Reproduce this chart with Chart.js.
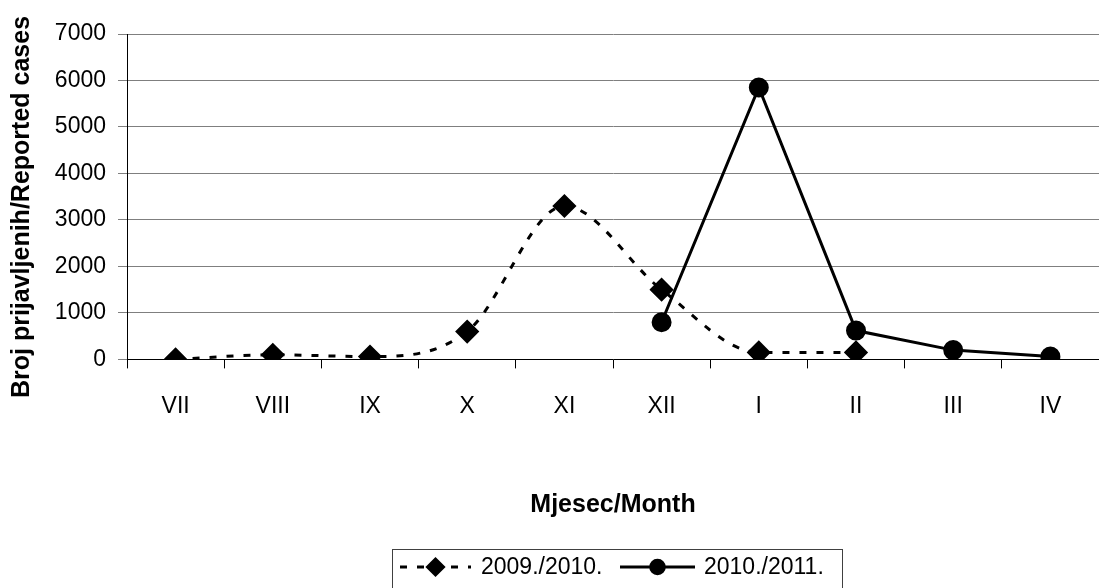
<!DOCTYPE html>
<html>
<head>
<meta charset="utf-8">
<script src="https://cdn.jsdelivr.net/npm/chart.js@4"></script>
<style>
  html, body { margin: 0; padding: 0; background: #fff; overflow: hidden; }
  canvas { display: block; }
</style>
</head>
<body>
<canvas id="casesChart" width="1112" height="588"></canvas>
<script>
// months, July to April
const months = ['VII', 'VIII', 'IX', 'X', 'XI', 'XII', 'I', 'II', 'III', 'IV'];
const season1Name = '2009./2010.';
const season2Name = '2010./2011.';
const season1 = [0, 100, 60, 600, 3300, 1500, 150, 150, null, null];
const season2 = [null, null, null, null, null, 800, 5850, 620, 200, 60];
const yTicks = [0, 1000, 2000, 3000, 4000, 5000, 6000, 7000];
const yTitle = 'Broj prijavljenih/Reported cases';

const FONT = 'Liberation Sans, Arial, sans-serif';

// y title drawn by hand so it sits where Excel put it
const sideTitle = {
  id: 'sideTitle',
  afterDraw(chart) {
    const ctx = chart.ctx;
    ctx.save();
    ctx.translate(22, 207);
    ctx.rotate(-Math.PI / 2);
    ctx.font = 'bold 25px ' + FONT;
    ctx.fillStyle = '#000';
    ctx.textAlign = 'center';
    ctx.textBaseline = 'middle';
    ctx.fillText(yTitle, 0, 0);
    ctx.restore();
  }
};

// Excel style legend: line sample with marker, inside a box
const boxLegend = {
  id: 'boxLegend',
  afterDraw(chart) {
    const ctx = chart.ctx;
    const ds = chart.data.datasets;
    ctx.save();
    ctx.strokeStyle = '#404040';
    ctx.lineWidth = 1;
    ctx.strokeRect(392.5, 549.5, 450, 44);

    const cy = 567;
    const items = [
      { d: ds[0], x0: 400, x1: 471, tx: 481 },
      { d: ds[1], x0: 620, x1: 695, tx: 704 }
    ];
    items.forEach(function (it) {
      ctx.strokeStyle = '#000';
      ctx.lineWidth = 3;
      ctx.setLineDash(it.d.borderDash || []);
      ctx.beginPath();
      ctx.moveTo(it.x0, cy);
      ctx.lineTo(it.x1, cy);
      ctx.stroke();
      ctx.setLineDash([]);
      ctx.fillStyle = '#000';
      Chart.helpers.drawPoint(ctx, {
        pointStyle: it.d.pointStyle,
        radius: it.d.pointRadius * 0.8,
        borderWidth: 1
      }, (it.x0 + it.x1) / 2, cy);
      ctx.fill();
      ctx.font = '23px ' + FONT;
      ctx.textBaseline = 'middle';
      ctx.textAlign = 'left';
      ctx.fillText(it.d.label, it.tx, cy + 1);
    });
    ctx.restore();
  }
};

const ctx = document.getElementById('casesChart').getContext('2d');
const casesChart = new Chart(ctx, {
  type: 'line',
  data: {
    labels: months,
    datasets: [{
      label: season1Name,
      data: season1,
      borderColor: '#000',
      backgroundColor: '#000',
      borderWidth: 3,
      borderDash: [7, 10],
      cubicInterpolationMode: 'monotone',
      pointStyle: 'rectRot',
      pointRadius: 10,
      pointBackgroundColor: '#000',
      pointBorderColor: '#000',
      spanGaps: false
    }, {
      label: season2Name,
      data: season2,
      borderColor: '#000',
      backgroundColor: '#000',
      borderWidth: 3,
      tension: 0,
      pointStyle: 'circle',
      pointRadius: 8.5,
      pointBackgroundColor: '#000',
      pointBorderColor: '#000'
    }]
  },
  options: {
    responsive: false,
    animation: false,
    layout: { padding: { top: 34, right: 0, bottom: 68, left: 0 } },
    plugins: {
      legend: { display: false },
      tooltip: { enabled: false }
    },
    scales: {
      x: {
        offset: true,
        grid: {
          offset: true,
          drawOnChartArea: false,
          drawTicks: true,
          tickLength: 9,
          color: '#000'
        },
        border: { color: '#000', width: 1 },
        ticks: {
          color: '#000',
          font: { family: FONT, size: 23 },
          padding: 24,
          maxRotation: 0,
          autoSkip: false
        },
        title: {
          display: true,
          text: 'Mjesec/Month',
          color: '#000',
          font: { family: FONT, size: 25, weight: 'bold' },
          padding: { top: 46, bottom: 0 }
        }
      },
      y: {
        min: 0,
        max: 7000,
        afterBuildTicks(scale) {
          scale.ticks = yTicks.map(v => ({ value: v }));
        },
        afterFit(scale) {
          scale.width = 127;
        },
        grid: {
          color: '#7f7f7f',
          tickLength: 9
        },
        border: { color: '#000', width: 1 },
        ticks: {
          color: '#000',
          font: { family: FONT, size: 23 },
          padding: 12,
          callback: v => String(v)
        }
      }
    }
  },
  plugins: [sideTitle, boxLegend]
});
</script>
</body>
</html>
